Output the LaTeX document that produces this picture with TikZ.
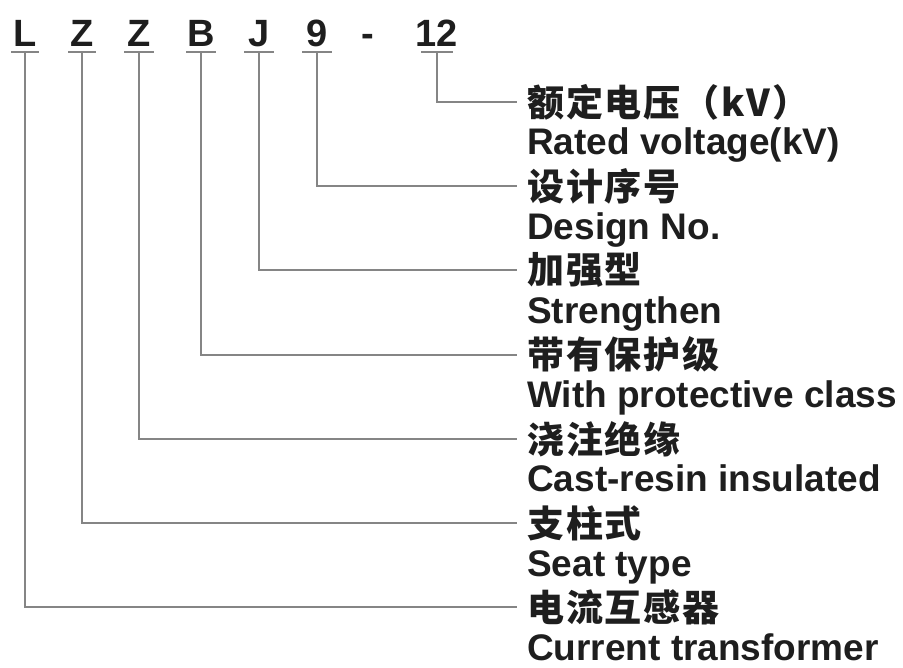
\documentclass[tikz,border=0pt]{standalone}
\usepackage{fontspec}
\setmainfont{Liberation Sans}
\newfontfamily\cjk[LetterSpace=5]{Noto Sans CJK SC}
\definecolor{txt}{HTML}{1E1E1E}
\definecolor{ln}{HTML}{858585}
\begin{document}
\begin{tikzpicture}[x=1pt,y=-1pt,
  code/.style={font=\fontsize{38}{38}\selectfont\bfseries, text=txt, anchor=base, inner sep=0},
  zh/.style={font=\fontsize{37}{37}\selectfont\cjk\bfseries, text=txt, anchor=west, inner sep=0},
  en/.style={font=\fontsize{37}{37}\selectfont\bfseries, text=txt, anchor=base west, inner sep=0},
  conn/.style={draw=ln, line width=2pt},
  uline/.style={draw=ln, line width=2pt}]
\useasboundingbox (0,0) rectangle (903,668);
% code letters
\node[code] (kL)  at (25,47)  {L};
\node[code] (kZ1) at (82,47)  {Z};
\node[code] (kZ2) at (139,47) {Z};
\node[code] (kB)  at (201,47) {B};
\node[code] (kJ)  at (259,47) {J};
\node[code] (k9)  at (317,47) {9};
\node[code] (kd)  at (368,47) {-};
\node[code] (k12) at (437,47) {12};
% underline anchor points
\foreach \n/\x/\w in {L/25/14, Z1/82/14, Z2/139/15, B/201/15, J/259/15, 9/317/15, 12/437/16}{
  \coordinate (u\n) at (\x,52);
  \draw[uline] (\x-\w,52) -- (\x+\w,52);
}
% labels
\foreach \n/\i/\zhtext/\entext in {
  12/0/额定电压（kV）/Rated voltage(kV),
  9/1/设计序号/Design No.,
  J/2/加强型/Strengthen,
  B/3/带有保护级/With protective class,
  Z2/4/浇注绝缘/Cast-resin insulated,
  Z1/5/支柱式/Seat type,
  L/6/电流互感器/Current transformer}{
  \pgfmathsetmacro{\yy}{102+84.2*\i}
  \node[zh] (c\n) at (527,\yy) {\zhtext};
  \node[en] (e\n) at (527,\yy+53) {\entext};
  \draw[conn] (u\n) |- ([xshift=-10pt]c\n.west);
}
\end{tikzpicture}
\end{document}
